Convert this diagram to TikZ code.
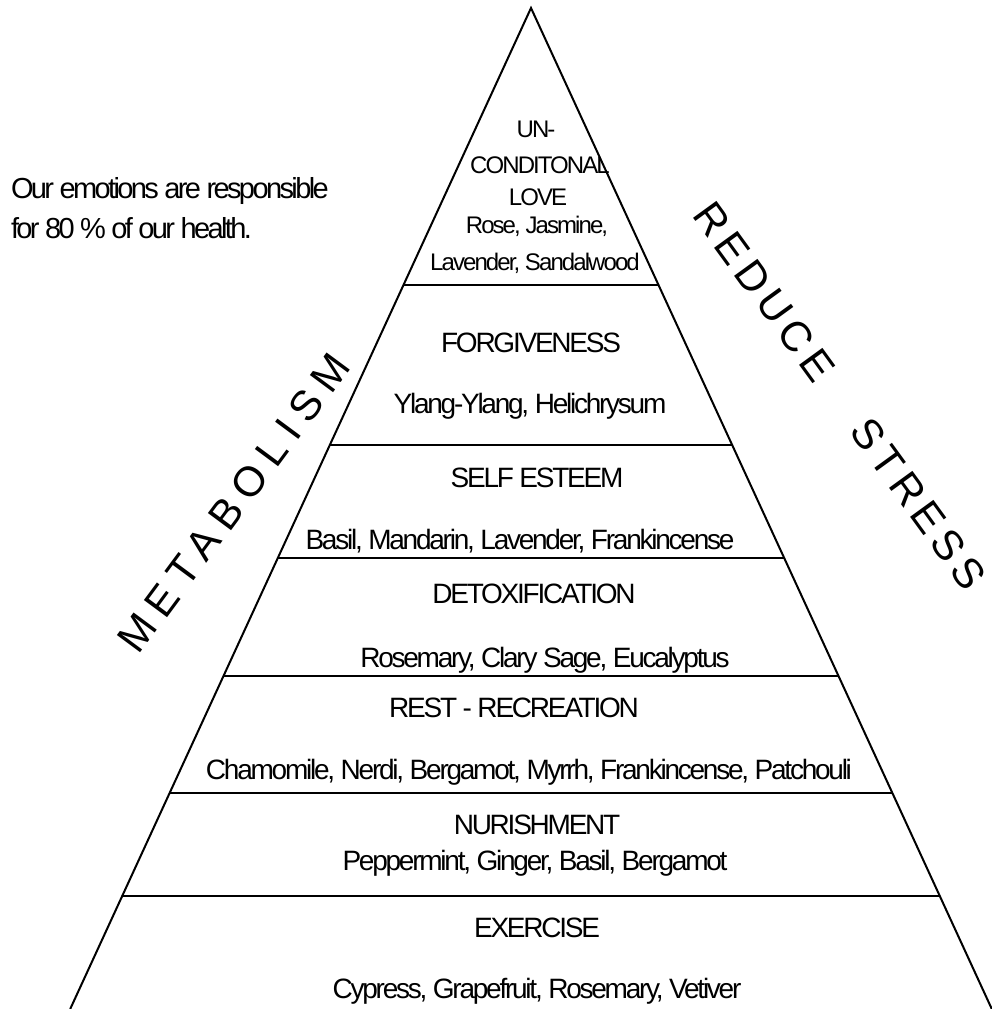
\documentclass[tikz,border=0pt]{standalone}
\usepackage{fontspec}
\setmainfont{Liberation Sans}
\newfontfamily\tightfont[LetterSpace=-8]{Liberation Sans}
\newfontfamily\notefont[LetterSpace=-9]{Liberation Sans}
\newfontfamily\widefont[LetterSpace=23]{Liberation Sans}
\newfontfamily\stressfont[LetterSpace=15]{Liberation Sans}
\begin{document}
\begin{tikzpicture}[x=1pt,y=-1pt,line width=2pt,
  lbl/.style={font=\tightfont\fontsize{28}{30}\selectfont, anchor=base, inner sep=0pt},
  toplbl/.style={font=\tightfont\fontsize{24}{26}\selectfont, anchor=base, inner sep=0pt},
  side/.style={font=\widefont\fontsize{42}{44}\selectfont, inner sep=0pt},
  sideb/.style={font=\stressfont\fontsize{42}{44}\selectfont, inner sep=0pt}]
\useasboundingbox (0,0) rectangle (992,1009);
\fill[white] (0,0) rectangle (992,1009);
\coordinate (apex) at (531,8);
\coordinate (bl) at (70.2,1009);
\coordinate (br) at (991.8,1009);
\draw (bl) -- (apex) -- (br);
\foreach \yy in {285,445,558,676,793,896}
  \draw ({531-0.4604*(\yy-8)},\yy) -- ({531+0.4604*(\yy-8)},\yy);
% top section
\node[toplbl] (un) at (536,137) {UN-};
\node[toplbl] (cond) at (540,173) {CONDITONAL};
\node[toplbl] (love) at (538,205) {LOVE};
\node[toplbl] (rose) at (537,233) {Rose, Jasmine,};
\node[toplbl] (lav) at (535,270) {Lavender, Sandalwood};
% sections
\node[lbl] (forg) at (531,352) {FORGIVENESS};
\node[lbl] (ylang) at (530,413) {Ylang-Ylang, Helichrysum};
\node[lbl] (self) at (537,487) {SELF ESTEEM};
\node[lbl] (basil) at (520,549) {Basil, Mandarin, Lavender, Frankincense};
\node[lbl] (detox) at (534,603) {DETOXIFICATION};
\node[lbl] (rosem) at (545,667) {Rosemary, Clary Sage, Eucalyptus};
\node[lbl] (rest) at (514,717) {REST - RECREATION};
\node[lbl] (cham) at (529,779) {Chamomile, Nerdi, Bergamot, Myrrh, Frankincense, Patchouli};
\node[lbl] (nuri) at (537,834) {NURISHMENT};
\node[lbl] (pepp) at (535,870) {Peppermint, Ginger, Basil, Bergamot};
\node[lbl] (exer) at (537,937) {EXERCISE};
\node[lbl] (cypr) at (537,998) {Cypress, Grapefruit, Rosemary, Vetiver};
% left note
\node[font=\notefont\fontsize{29}{40}\selectfont, anchor=base west, inner sep=0pt, align=left] (note) at (10,238)
  {Our emotions are responsible\\for 80 \% of our health.};
% side labels
\node[side, rotate=53.5] (meta) at (234,503) {METABOLISM};
\node[sideb, rotate=-54] (stress) at (840,396) {REDUCE\hspace{40pt} STRESS};
\end{tikzpicture}
\end{document}
